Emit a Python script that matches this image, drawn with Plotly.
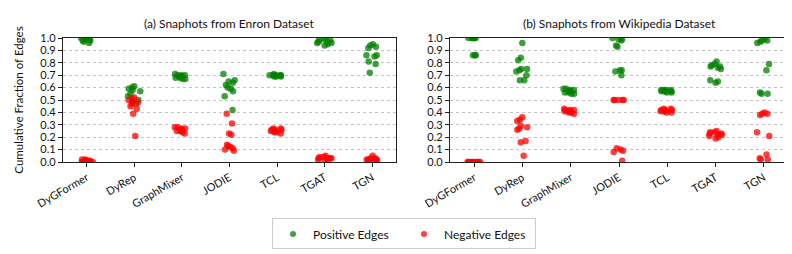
import plotly.graph_objects as go

categories = ["DyGFormer", "DyRep", "GraphMixer", "JODIE", "TCL", "TGAT", "TGN"]

# (a) Enron snapshots
enron_pos = {
    "DyGFormer": [1.0, 1.0, 0.99, 0.99, 0.98, 0.98, 0.97, 0.99, 1.0, 0.96],
    "DyRep": [0.61, 0.59, 0.60, 0.58, 0.55, 0.53, 0.50, 0.49, 0.47, 0.57],
    "GraphMixer": [0.70, 0.69, 0.68, 0.67, 0.70, 0.69, 0.68, 0.71, 0.67, 0.70],
    "JODIE": [0.71, 0.66, 0.65, 0.62, 0.60, 0.59, 0.57, 0.53, 0.42, 0.64],
    "TCL": [0.70, 0.70, 0.69, 0.70, 0.71, 0.70, 0.69, 0.70, 0.70, 0.69],
    "TGAT": [0.99, 0.98, 0.97, 0.96, 0.95, 0.94, 0.97, 0.98, 1.0, 0.96],
    "TGN": [0.95, 0.93, 0.92, 0.86, 0.86, 0.85, 0.81, 0.79, 0.72, 0.94],
}
enron_neg = {
    "DyGFormer": [0.02, 0.01, 0.01, 0.0, 0.0, 0.02, 0.01, 0.0, 0.01, 0.0],
    "DyRep": [0.52, 0.51, 0.50, 0.49, 0.48, 0.47, 0.45, 0.43, 0.39, 0.21],
    "GraphMixer": [0.28, 0.27, 0.26, 0.25, 0.24, 0.27, 0.28, 0.25, 0.23, 0.26],
    "JODIE": [0.39, 0.31, 0.23, 0.22, 0.14, 0.12, 0.11, 0.10, 0.09, 0.13],
    "TCL": [0.27, 0.26, 0.25, 0.24, 0.23, 0.26, 0.27, 0.25, 0.24, 0.26],
    "TGAT": [0.05, 0.04, 0.03, 0.03, 0.02, 0.02, 0.04, 0.03, 0.01, 0.03],
    "TGN": [0.05, 0.03, 0.02, 0.02, 0.01, 0.01, 0.02, 0.03, 0.0, 0.01],
}

# (b) Wikipedia snapshots
wiki_pos = {
    "DyGFormer": [1.0, 1.0, 1.0, 1.0, 1.0, 1.0, 1.0, 0.86, 0.86, 0.86],
    "DyRep": [0.96, 0.84, 0.82, 0.75, 0.74, 0.73, 0.70, 0.66, 0.66, 0.75],
    "GraphMixer": [0.59, 0.58, 0.58, 0.57, 0.56, 0.55, 0.55, 0.57, 0.59, 0.56],
    "JODIE": [1.0, 0.99, 0.98, 0.94, 0.93, 0.74, 0.74, 0.73, 0.70, 0.99],
    "TCL": [0.58, 0.57, 0.57, 0.58, 0.56, 0.57, 0.58, 0.57, 0.56, 0.58],
    "TGAT": [0.81, 0.79, 0.78, 0.77, 0.76, 0.75, 0.66, 0.65, 0.64, 0.77],
    "TGN": [0.99, 0.98, 0.97, 0.96, 0.79, 0.74, 0.56, 0.55, 0.55, 0.98],
}
wiki_neg = {
    "DyGFormer": [0.0, 0.0, 0.0, 0.0, 0.0, 0.0, 0.0, 0.0, 0.0, 0.0],
    "DyRep": [0.36, 0.34, 0.33, 0.28, 0.27, 0.26, 0.17, 0.16, 0.05, 0.29],
    "GraphMixer": [0.43, 0.42, 0.42, 0.41, 0.41, 0.40, 0.40, 0.41, 0.42, 0.39],
    "JODIE": [0.50, 0.50, 0.50, 0.50, 0.50, 0.11, 0.10, 0.09, 0.08, 0.01],
    "TCL": [0.43, 0.42, 0.41, 0.41, 0.40, 0.42, 0.43, 0.41, 0.40, 0.42],
    "TGAT": [0.25, 0.24, 0.23, 0.23, 0.22, 0.22, 0.21, 0.20, 0.19, 0.24],
    "TGN": [0.40, 0.39, 0.39, 0.38, 0.24, 0.21, 0.06, 0.03, 0.02, 0.02],
}

titles = ["(a) Snaphots from Enron Dataset", "(b) Snaphots from Wikipedia Dataset"]
y_ticks = [round(0.1 * i, 1) for i in range(11)]
y_tick_labels = [f"{v:.1f}" for v in y_ticks]

POS_COLOR = "rgba(0,128,0,0.75)"
NEG_COLOR = "rgba(255,0,0,0.75)"
FONT = "Lato, Open Sans, sans-serif"
FS = 11
FS_TITLE = 12

fig = go.Figure()


def add_strip(data, color, xaxis, yaxis, name):
    xs, ys = [], []
    for c in categories:
        for v in data[c]:
            xs.append(c)
            ys.append(v)
    fig.add_trace(go.Box(
        x=xs, y=ys, name=name, boxpoints="all", jitter=1.0, pointpos=0,
        width=0.32, fillcolor="rgba(0,0,0,0)", line=dict(width=0, color="rgba(0,0,0,0)"),
        marker=dict(color=color, size=6.5, line=dict(width=0)),
        xaxis=xaxis, yaxis=yaxis, showlegend=False, hoverinfo="y",
    ))


add_strip(enron_pos, POS_COLOR, "x", "y", "Positive Edges")
add_strip(enron_neg, NEG_COLOR, "x", "y", "Negative Edges")
add_strip(wiki_pos, POS_COLOR, "x2", "y2", "Positive Edges")
add_strip(wiki_neg, NEG_COLOR, "x2", "y2", "Negative Edges")

# legend entries
for name, color in [("Positive Edges", POS_COLOR), ("Negative Edges", NEG_COLOR)]:
    fig.add_trace(go.Scatter(x=[None], y=[None], mode="markers", name=name,
                             marker=dict(color=color, size=6), xaxis="x", yaxis="y"))

W, H = 792, 254
ML, MR, MT, MB = 55, 12, 30, 97
PW = W - ML - MR

xcommon = dict(type="category", categoryorder="array", categoryarray=categories,
               range=[-0.5, 6.5], tickangle=-30, ticks="outside", ticklen=4, tickcolor="#222",
               showline=True, linecolor="#222", linewidth=1.2, mirror=True, showgrid=False,
               automargin=False, tickfont=dict(size=FS, color="#111", family=FONT))
ycommon = dict(range=[0, 1.0], tickvals=y_ticks, ticktext=y_tick_labels, ticks="outside",
               ticklen=4, tickcolor="#222", showline=True, linecolor="#222", linewidth=1.2,
               mirror=True, showgrid=True, gridcolor="#c4c4c4", griddash="dot", gridwidth=1,
               zeroline=False, automargin=False, tickfont=dict(size=FS, color="#111", family=FONT))

fig.update_layout(
    width=W, height=H,
    margin=dict(l=ML, r=MR, t=MT, b=MB),
    paper_bgcolor="white", plot_bgcolor="white",
    font=dict(family=FONT, size=FS, color="#111"),
    boxmode="overlay",
    xaxis=dict(domain=[0, (388 - ML) / PW], anchor="y", **xcommon),
    xaxis2=dict(domain=[(442 - ML) / PW, 1], anchor="y2", **xcommon),
    yaxis=dict(domain=[0, 1], anchor="x",
               title=dict(text="Cumulative Fraction of Edges", font=dict(size=11.5), standoff=14),
               **ycommon),
    yaxis2=dict(domain=[0, 1], anchor="x2", **ycommon),
    legend=dict(orientation="h", x=(W / 2 - ML) / PW, xanchor="center", y=-0.58,
                yanchor="middle", bgcolor="white", bordercolor="#cccccc", borderwidth=1,
                entrywidth=86, entrywidthmode="pixels", font=dict(size=FS_TITLE)),
    annotations=[
        dict(text=titles[0], x=(388 - ML) / PW / 2, y=1.0, xref="paper", yref="paper",
             showarrow=False, xanchor="center", yanchor="bottom", yshift=5,
             font=dict(size=FS_TITLE)),
        dict(text=titles[1], x=((442 - ML) / PW + 1) / 2, y=1.0, xref="paper", yref="paper",
             showarrow=False, xanchor="center", yanchor="bottom", yshift=5,
             font=dict(size=FS_TITLE)),
    ],
)

fig.write_html("out.html")
